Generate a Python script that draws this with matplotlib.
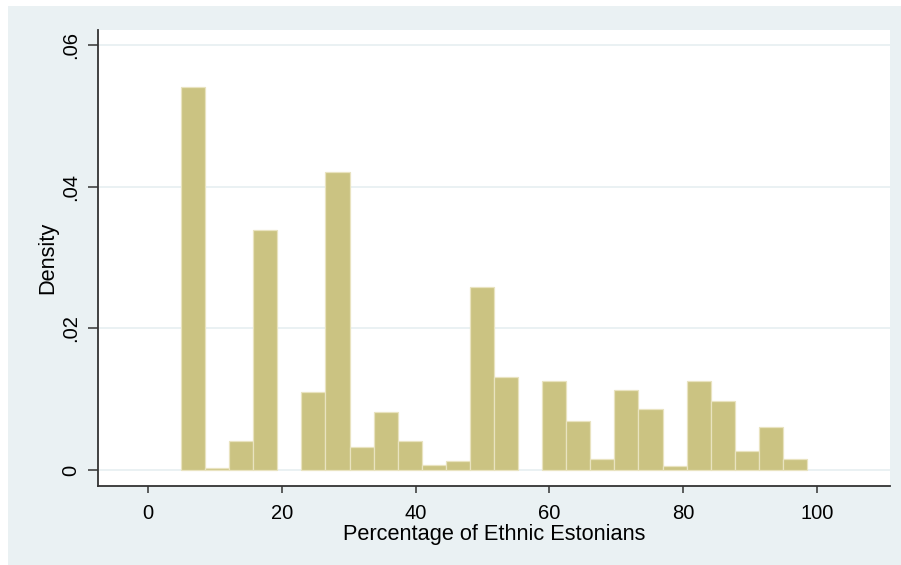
import numpy as np
import matplotlib.pyplot as plt
from matplotlib.patches import Rectangle

# histogram of district shares, 26 equal bins
bin_lo = 4.93
bin_hi = 98.5
density = [0.0541, 0.0003, 0.0041, 0.0339, 0.0, 0.0110, 0.0421, 0.0032,
           0.0082, 0.0041, 0.0007, 0.0013, 0.0258, 0.0131, 0.0, 0.0126,
           0.0069, 0.0016, 0.0113, 0.0086, 0.0006, 0.0126, 0.0097, 0.0027,
           0.0061, 0.0016]
xticks = [0, 20, 40, 60, 80, 100]
yticks = [0, 0.02, 0.04, 0.06]
ylabels = ['0', '.02', '.04', '.06']

plt.rcParams['font.family'] = ['Liberation Sans', 'DejaVu Sans']

fig = plt.figure(figsize=(9.01, 5.65), dpi=100)
fig.patch.set_facecolor('white')
fig.patches.append(Rectangle((8/901, 0), 1, 1 - 6/565, transform=fig.transFigure,
                             facecolor='#eaf1f3', edgecolor='none', zorder=-10))

ax = fig.add_axes([98/901, 1 - 486/565, (890 - 98)/901, (486 - 30)/565])
ax.set_facecolor('white')

edges = np.linspace(bin_lo, bin_hi, len(density) + 1)
heights = np.array(density)
keep = heights > 0  # empty bins draw nothing
ax.bar(edges[:-1][keep], heights[keep], width=np.diff(edges)[keep], align='edge',
       color='#cbc382', edgecolor='#e9e3c0', linewidth=0.9, zorder=3)

ax.set_xlim(-7.47, 110.9)
ax.set_ylim(-0.00226, 0.0621)

for y in yticks:
    ax.axhline(y, color='#e6eff1', linewidth=1.2, zorder=1)

ax.set_xticks(xticks)
ax.set_yticks(yticks)
ax.set_yticklabels(ylabels, rotation=90, va='center')
ax.tick_params(axis='x', length=5, width=1.1, color='#333333', pad=8, labelsize=14.5)
ax.tick_params(axis='y', length=7, width=1.1, color='#333333', pad=6, labelsize=14.5)

for s in ['top', 'right']:
    ax.spines[s].set_visible(False)
for s in ['left', 'bottom']:
    ax.spines[s].set_color('#333333')
    ax.spines[s].set_linewidth(1.3)

ax.set_xlabel('Percentage of Ethnic Estonians', fontsize=15.7, labelpad=1)
ax.set_ylabel('Density', fontsize=15.7, labelpad=2)

fig.savefig('out.png', dpi=100)
